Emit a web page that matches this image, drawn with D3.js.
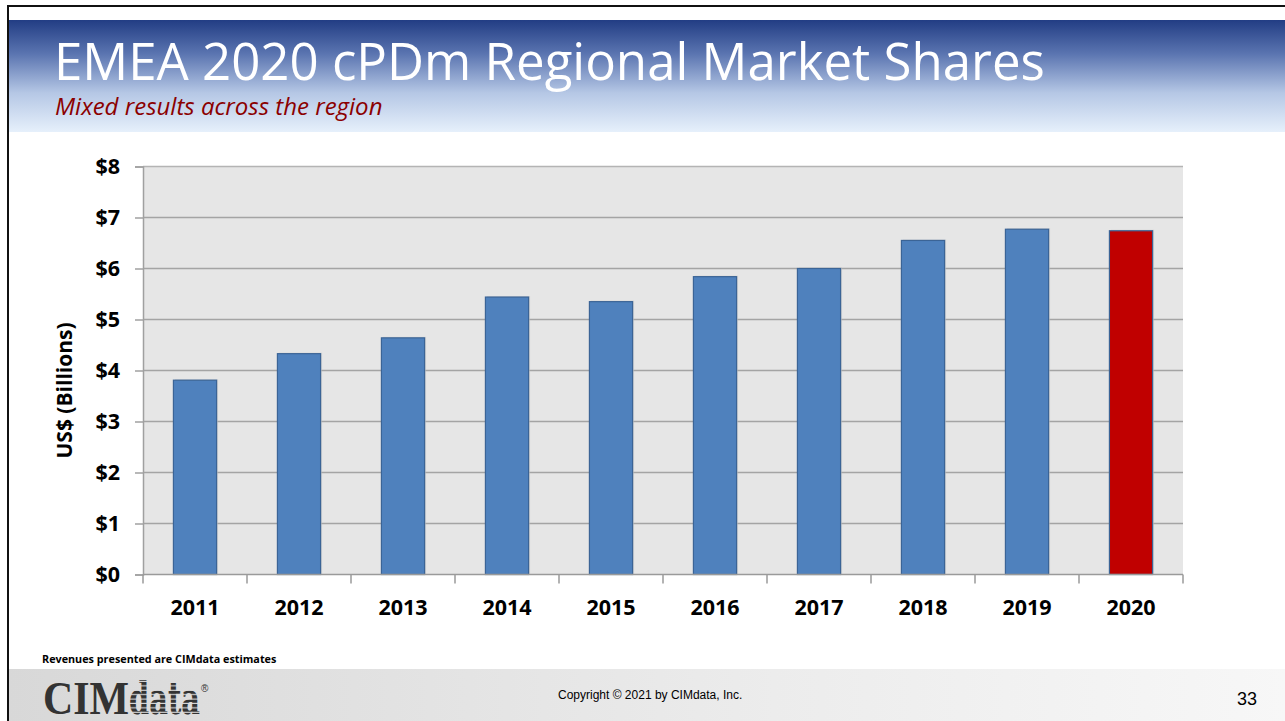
<!DOCTYPE html>
<html lang="en">
<head>
    <meta charset="UTF-8">
    <title>EMEA 2020 cPDm Regional Market Shares</title>
    <script src="https://d3js.org/d3.v7.min.js"></script>
    <style>
        html, body { margin: 0; padding: 0; background: #fff; }
        svg { display: block; }
    </style>
</head>
<body>
    <svg id="canvas" width="1285" height="721"></svg>
    <script>
        // chart data
        const years = ["2011", "2012", "2013", "2014", "2015", "2016", "2017", "2018", "2019", "2020"];
        const revenue = [3.81, 4.33, 4.64, 5.44, 5.35, 5.84, 6.00, 6.55, 6.77, 6.74];
        const highlightYear = "2020";
        const yTicks = [0, 1, 2, 3, 4, 5, 6, 7, 8];

        const titleText = "EMEA 2020 cPDm Regional Market Shares";
        const subtitleText = "Mixed results across the region";
        const yAxisTitle = "US$ (Billions)";
        const noteText = "Revenues presented are CIMdata estimates";
        const copyrightText = "Copyright \u00A9 2021 by CIMdata, Inc.";
        const pageNumber = "33";

        const W = 1285, H = 721;
        const plot = { left: 143, right: 1183, top: 166.5, bottom: 574.5 };

        let canvas = d3.select("#canvas");
        let defs = canvas.append("defs");

        // header gradient
        let hg = defs.append("linearGradient").attr("id", "headGrad")
            .attr("x1", 0).attr("y1", 0).attr("x2", 0).attr("y2", 1);
        hg.append("stop").attr("offset", "0%").attr("stop-color", "#223d84");
        hg.append("stop").attr("offset", "30%").attr("stop-color", "#5a74b0");
        hg.append("stop").attr("offset", "65%").attr("stop-color", "#b5c7e5");
        hg.append("stop").attr("offset", "100%").attr("stop-color", "#e6f0fb");

        // footer gradient
        let fg = defs.append("linearGradient").attr("id", "footGrad")
            .attr("x1", 0).attr("y1", 0).attr("x2", 1).attr("y2", 0);
        fg.append("stop").attr("offset", "0%").attr("stop-color", "#d8d8d8");
        fg.append("stop").attr("offset", "60%").attr("stop-color", "#ececec");
        fg.append("stop").attr("offset", "100%").attr("stop-color", "#f7f7f7");

        // striped fill for the logo
        let stripes = defs.append("pattern").attr("id", "stripes")
            .attr("patternUnits", "userSpaceOnUse")
            .attr("width", 8).attr("height", 4.4);
        stripes.append("rect").attr("width", 8).attr("height", 4.4).attr("fill", "#dcdcdc");
        stripes.append("rect").attr("width", 8).attr("height", 3.3).attr("fill", "#333");

        // slide frame + header band
        canvas.append("rect")
            .attr("x", 9).attr("y", 20).attr("width", W - 9).attr("height", 112)
            .attr("fill", "url(#headGrad)");
        canvas.append("line")
            .attr("x1", 8).attr("x2", W).attr("y1", 6).attr("y2", 6)
            .attr("stroke", "#111").attr("stroke-width", 2);
        canvas.append("line")
            .attr("x1", 8).attr("x2", 8).attr("y1", 5).attr("y2", H)
            .attr("stroke", "#111").attr("stroke-width", 2);

        canvas.append("text")
            .attr("x", 54).attr("y", 80)
            .attr("fill", "#ffffff")
            .style("font-family", "'Open Sans', sans-serif")
            .style("font-size", "51px")
            .text(titleText);

        canvas.append("text")
            .attr("x", 55).attr("y", 115)
            .attr("fill", "#8b0000")
            .style("font-family", "'Open Sans', sans-serif")
            .style("font-style", "italic")
            .style("font-size", "24px")
            .text(subtitleText);

        // scales
        let x = d3.scaleBand()
            .domain(years)
            .range([plot.left, plot.right])
            .paddingInner(0.585)
            .paddingOuter(0.2925);

        let y = d3.scaleLinear()
            .domain([0, 8])
            .range([plot.bottom, plot.top]);

        // plot background
        canvas.append("rect")
            .attr("x", plot.left).attr("y", plot.top)
            .attr("width", plot.right - plot.left)
            .attr("height", plot.bottom - plot.top)
            .attr("fill", "#e6e6e6");

        // gridlines
        canvas.append("g")
            .selectAll("line")
            .data(yTicks.filter(d => d > 0))
            .enter()
            .append("line")
            .attr("x1", plot.left).attr("x2", plot.right)
            .attr("y1", d => y(d)).attr("y2", d => y(d))
            .attr("stroke", d => d === 8 ? "#b4b4b4" : "#a4a4a4")
            .attr("stroke-width", 1.5);

        // y axis
        let yAxis = canvas.append("g")
            .attr("transform", `translate(${plot.left},0)`)
            .call(d3.axisLeft(y).tickValues(yTicks).tickSize(8).tickPadding(15)
                .tickFormat(d => "$" + d));
        yAxis.select(".domain").attr("stroke", "#a0a0a0").attr("stroke-width", 1.5);
        yAxis.selectAll(".tick line").attr("stroke", "#a0a0a0").attr("stroke-width", 1.5);
        yAxis.selectAll(".tick text")
            .attr("fill", "#000")
            .style("font-family", "'Open Sans', sans-serif")
            .style("font-weight", "bold")
            .style("font-size", "21.5px");

        // bars (with a faint shadow)
        let bars = canvas.append("g");
        bars.selectAll("rect.shadow")
            .data(years)
            .enter()
            .append("rect")
            .attr("class", "shadow")
            .attr("x", d => x(d) + 1.5)
            .attr("y", (d, i) => y(revenue[i]) - 1)
            .attr("width", x.bandwidth())
            .attr("height", (d, i) => y(0) - y(revenue[i]) + 1)
            .attr("fill", "#c8c8c8")
            .attr("opacity", 0.6);

        bars.selectAll("rect.bar")
            .data(years)
            .enter()
            .append("rect")
            .attr("class", "bar")
            .attr("x", d => x(d))
            .attr("y", (d, i) => y(revenue[i]))
            .attr("width", x.bandwidth())
            .attr("height", (d, i) => y(0) - y(revenue[i]))
            .attr("fill", d => d === highlightYear ? "#c00000" : "#4f81bd")
            .attr("stroke", "#3b6496")
            .attr("stroke-width", 1.2);

        // x axis: baseline + boundary ticks
        let xg = canvas.append("g");
        xg.append("line")
            .attr("x1", plot.left).attr("x2", plot.right)
            .attr("y1", y(0)).attr("y2", y(0))
            .attr("stroke", "#9a9a9a").attr("stroke-width", 1.5);
        xg.selectAll("line.tick")
            .data(d3.range(years.length + 1))
            .enter()
            .append("line")
            .attr("class", "tick")
            .attr("x1", i => x.range()[0] + i * x.step())
            .attr("x2", i => x.range()[0] + i * x.step())
            .attr("y1", y(0)).attr("y2", y(0) + 9)
            .attr("stroke", "#9a9a9a").attr("stroke-width", 1.5);
        xg.selectAll("text")
            .data(years)
            .enter()
            .append("text")
            .attr("x", d => x(d) + x.bandwidth() / 2)
            .attr("y", 615)
            .attr("text-anchor", "middle")
            .style("font-family", "'Open Sans', sans-serif")
            .style("font-weight", "bold")
            .style("font-size", "21.5px")
            .text(d => d);

        // y axis title
        canvas.append("text")
            .attr("transform", `translate(72, ${(plot.top + plot.bottom) / 2 + 20}) rotate(-90)`)
            .attr("text-anchor", "middle")
            .style("font-family", "'Open Sans', sans-serif")
            .style("font-weight", "bold")
            .style("font-size", "21px")
            .text(yAxisTitle);

        // footer
        canvas.append("text")
            .attr("x", 42).attr("y", 663)
            .style("font-family", "'Open Sans', sans-serif")
            .style("font-weight", "bold")
            .style("font-size", "10.8px")
            .text(noteText);

        canvas.append("rect")
            .attr("x", 9).attr("y", 669).attr("width", W - 9).attr("height", H - 669)
            .attr("fill", "url(#footGrad)");

        // logo as one text: "CIM" solid, "data" striped, small registered mark
        let logo = canvas.append("text")
            .attr("x", 43).attr("y", 713.5)
            .style("font-weight", "bold");
        logo.append("tspan")
            .attr("fill", "#333")
            .attr("textLength", 86).attr("lengthAdjust", "spacingAndGlyphs")
            .style("font-family", "'Liberation Serif', serif")
            .style("font-size", "47px")
            .text("CIM");
        logo.append("tspan")
            .attr("fill", "url(#stripes)")
            .attr("textLength", 71).attr("lengthAdjust", "spacingAndGlyphs")
            .style("font-family", "'DejaVu Serif', serif")
            .style("font-size", "44px")
            .text("data");
        logo.append("tspan")
            .attr("dx", 1).attr("dy", -22)
            .attr("fill", "#333")
            .style("font-weight", "normal")
            .style("font-family", "'Liberation Sans', sans-serif")
            .style("font-size", "10px")
            .text("\u00AE");

        canvas.append("text")
            .attr("x", 558).attr("y", 699)
            .style("font-family", "'Liberation Sans', Arial, sans-serif")
            .style("font-size", "12px")
            .text(copyrightText);

        canvas.append("text")
            .attr("x", 1257).attr("y", 705)
            .attr("text-anchor", "end")
            .style("font-family", "'Liberation Sans', Arial, sans-serif")
            .style("font-size", "18px")
            .text(pageNumber);
    </script>
</body>
</html>
